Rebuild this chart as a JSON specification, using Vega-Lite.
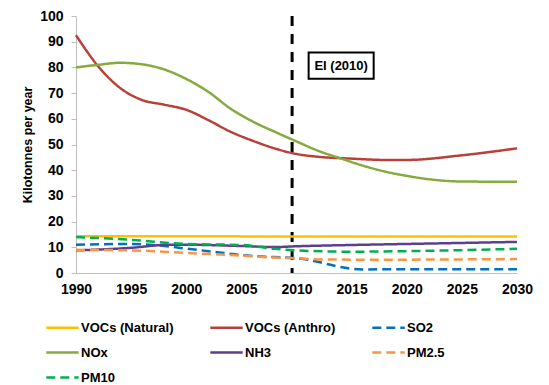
{
  "$schema": "https://vega.github.io/schema/vega-lite/v6.json",
  "width": 441,
  "height": 257,
  "autosize": {"type": "none"},
  "padding": {"left": 76, "top": 16, "right": 32, "bottom": 112},
  "background": "white",
  "config": {
    "view": {"stroke": null},
    "font": "Liberation Sans",
    "axis": {"labelOverlap": false, "labelFlush": false, "labelBound": false},
    "axisX": {
      "title": null, "format": "d", "grid": false, "ticks": false, "domainColor": "#BFBFBF",
      "labelFont": "Liberation Sans", "labelFontSize": 14, "labelFontWeight": "bold",
      "labelColor": "black", "labelPadding": 9
    },
    "axisY": {
      "grid": false, "tickColor": "#BFBFBF", "domainColor": "#BFBFBF", "tickSize": 5,
      "labelFont": "Liberation Sans", "labelFontSize": 14, "labelFontWeight": "bold",
      "labelColor": "black", "labelPadding": 8,
      "titleFont": "Liberation Sans", "titleFontSize": 12.5, "titleFontWeight": "bold",
      "titleColor": "black", "titlePadding": 5
    }
  },
  "datasets": {
    "emis": [
      {"year": 1990, "series": "VOCs (Natural)", "value": 14.3},
      {"year": 2000, "series": "VOCs (Natural)", "value": 14.3},
      {"year": 2010, "series": "VOCs (Natural)", "value": 14.2},
      {"year": 2020, "series": "VOCs (Natural)", "value": 14.2},
      {"year": 2030, "series": "VOCs (Natural)", "value": 14.2},

      {"year": 1990, "series": "VOCs (Anthro)", "value": 92.5},
      {"year": 1992, "series": "VOCs (Anthro)", "value": 80.5},
      {"year": 1994, "series": "VOCs (Anthro)", "value": 72},
      {"year": 1996, "series": "VOCs (Anthro)", "value": 67.3},
      {"year": 1998, "series": "VOCs (Anthro)", "value": 65.5},
      {"year": 2000, "series": "VOCs (Anthro)", "value": 63.5},
      {"year": 2002, "series": "VOCs (Anthro)", "value": 59.5},
      {"year": 2004, "series": "VOCs (Anthro)", "value": 55},
      {"year": 2006, "series": "VOCs (Anthro)", "value": 51.5},
      {"year": 2008, "series": "VOCs (Anthro)", "value": 48.5},
      {"year": 2010, "series": "VOCs (Anthro)", "value": 46.3},
      {"year": 2012, "series": "VOCs (Anthro)", "value": 45.2},
      {"year": 2015, "series": "VOCs (Anthro)", "value": 44.5},
      {"year": 2018, "series": "VOCs (Anthro)", "value": 44},
      {"year": 2020, "series": "VOCs (Anthro)", "value": 44},
      {"year": 2025, "series": "VOCs (Anthro)", "value": 45.8},
      {"year": 2030, "series": "VOCs (Anthro)", "value": 48.5},

      {"year": 1990, "series": "SO2", "value": 11},
      {"year": 1995, "series": "SO2", "value": 11.3},
      {"year": 1998, "series": "SO2", "value": 10.5},
      {"year": 2000, "series": "SO2", "value": 9.5},
      {"year": 2003, "series": "SO2", "value": 8},
      {"year": 2005, "series": "SO2", "value": 7},
      {"year": 2008, "series": "SO2", "value": 6.2},
      {"year": 2010, "series": "SO2", "value": 5.8},
      {"year": 2012, "series": "SO2", "value": 4.3},
      {"year": 2014, "series": "SO2", "value": 2.3},
      {"year": 2016, "series": "SO2", "value": 1.4},
      {"year": 2020, "series": "SO2", "value": 1.5},
      {"year": 2025, "series": "SO2", "value": 1.5},
      {"year": 2030, "series": "SO2", "value": 1.5},

      {"year": 1990, "series": "NOx", "value": 80},
      {"year": 1992, "series": "NOx", "value": 81},
      {"year": 1994, "series": "NOx", "value": 81.8},
      {"year": 1996, "series": "NOx", "value": 81.2},
      {"year": 1998, "series": "NOx", "value": 79.2},
      {"year": 2000, "series": "NOx", "value": 75.5},
      {"year": 2002, "series": "NOx", "value": 70.5},
      {"year": 2004, "series": "NOx", "value": 64},
      {"year": 2006, "series": "NOx", "value": 59},
      {"year": 2008, "series": "NOx", "value": 55},
      {"year": 2010, "series": "NOx", "value": 51.2},
      {"year": 2012, "series": "NOx", "value": 47.5},
      {"year": 2014, "series": "NOx", "value": 44.6},
      {"year": 2016, "series": "NOx", "value": 41.8},
      {"year": 2018, "series": "NOx", "value": 39.5},
      {"year": 2020, "series": "NOx", "value": 37.8},
      {"year": 2022, "series": "NOx", "value": 36.5},
      {"year": 2025, "series": "NOx", "value": 35.6},
      {"year": 2030, "series": "NOx", "value": 35.5},

      {"year": 1990, "series": "NH3", "value": 8.8},
      {"year": 1995, "series": "NH3", "value": 9.8},
      {"year": 1998, "series": "NH3", "value": 10.9},
      {"year": 2000, "series": "NH3", "value": 11},
      {"year": 2005, "series": "NH3", "value": 10.5},
      {"year": 2008, "series": "NH3", "value": 10.1},
      {"year": 2010, "series": "NH3", "value": 10.4},
      {"year": 2015, "series": "NH3", "value": 10.9},
      {"year": 2020, "series": "NH3", "value": 11.3},
      {"year": 2025, "series": "NH3", "value": 11.7},
      {"year": 2030, "series": "NH3", "value": 12.1},

      {"year": 1990, "series": "PM2.5", "value": 9},
      {"year": 1995, "series": "PM2.5", "value": 8.8},
      {"year": 2000, "series": "PM2.5", "value": 7.8},
      {"year": 2005, "series": "PM2.5", "value": 6.8},
      {"year": 2008, "series": "PM2.5", "value": 6},
      {"year": 2010, "series": "PM2.5", "value": 5.7},
      {"year": 2012, "series": "PM2.5", "value": 5.3},
      {"year": 2015, "series": "PM2.5", "value": 5.2},
      {"year": 2020, "series": "PM2.5", "value": 5.2},
      {"year": 2025, "series": "PM2.5", "value": 5.3},
      {"year": 2030, "series": "PM2.5", "value": 5.4},

      {"year": 1990, "series": "PM10", "value": 14},
      {"year": 1995, "series": "PM10", "value": 12.9},
      {"year": 2000, "series": "PM10", "value": 11.3},
      {"year": 2005, "series": "PM10", "value": 10.9},
      {"year": 2008, "series": "PM10", "value": 9.4},
      {"year": 2010, "series": "PM10", "value": 8.8},
      {"year": 2015, "series": "PM10", "value": 8.3},
      {"year": 2020, "series": "PM10", "value": 8.5},
      {"year": 2025, "series": "PM10", "value": 8.9},
      {"year": 2030, "series": "PM10", "value": 9.4}
    ],
    "marker": [{"year": 2009.6}],
    "box": [{"x1": 2011.1, "x2": 2017.0, "y1": 75.6, "y2": 85.8, "xc": 2014.05, "yc": 80.7, "label": "EI (2010)"}]
  },
  "layer": [
    {
      "data": {"name": "marker"},
      "mark": {"type": "rule", "color": "black", "strokeWidth": 3, "strokeDash": [10, 8]},
      "encoding": {
        "x": {"field": "year", "type": "quantitative", "scale": {"domain": [1990, 2030], "nice": false, "zero": false},
              "axis": {"values": [1990, 1995, 2000, 2005, 2010, 2015, 2020, 2025, 2030], "tickCount": 20, "labelOverlap": false}}
      }
    },
    {
      "data": {"name": "box"},
      "mark": {"type": "rect", "fill": "white", "stroke": "black", "strokeWidth": 2},
      "encoding": {
        "x": {"field": "x1", "type": "quantitative",
              "axis": {"values": [1990, 1995, 2000, 2005, 2010, 2015, 2020, 2025, 2030], "tickCount": 20, "labelOverlap": false}},
        "x2": {"field": "x2"},
        "y": {"field": "y1", "type": "quantitative", "scale": {"domain": [0, 100], "nice": false},
              "axis": {"title": "Kilotonnes per year", "values": [0, 10, 20, 30, 40, 50, 60, 70, 80, 90, 100], "tickCount": 20, "labelOverlap": false}},
        "y2": {"field": "y2"}
      }
    },
    {
      "data": {"name": "box"},
      "mark": {"type": "text", "font": "Liberation Sans", "fontSize": 13, "fontWeight": "bold", "color": "black", "align": "center", "baseline": "middle"},
      "encoding": {
        "x": {"field": "xc", "type": "quantitative",
              "axis": {"values": [1990, 1995, 2000, 2005, 2010, 2015, 2020, 2025, 2030], "tickCount": 20, "labelOverlap": false}},
        "y": {"field": "yc", "type": "quantitative",
              "axis": {"title": "Kilotonnes per year", "values": [0, 10, 20, 30, 40, 50, 60, 70, 80, 90, 100], "tickCount": 20, "labelOverlap": false}},
        "text": {"field": "label"}
      }
    },
    {
      "data": {"name": "emis"},
      "mark": {"type": "line", "strokeWidth": 2.5, "interpolate": "monotone"},
      "encoding": {
        "x": {
          "field": "year", "type": "quantitative",
          "axis": {"values": [1990, 1995, 2000, 2005, 2010, 2015, 2020, 2025, 2030], "tickCount": 20, "labelOverlap": false}
        },
        "y": {
          "field": "value", "type": "quantitative",
          "axis": {"title": "Kilotonnes per year", "values": [0, 10, 20, 30, 40, 50, 60, 70, 80, 90, 100], "tickCount": 20, "labelOverlap": false}
        },
        "color": {
          "field": "series", "type": "nominal",
          "sort": ["VOCs (Natural)", "VOCs (Anthro)", "SO2", "NOx", "NH3", "PM2.5", "PM10"],
          "scale": {
            "domain": ["VOCs (Natural)", "VOCs (Anthro)", "SO2", "NOx", "NH3", "PM2.5", "PM10"],
            "range": ["#FFC000", "#B8403A", "#0070C0", "#86AA40", "#5F3E8A", "#F79646", "#00B050"]
          },
          "legend": {
            "title": null, "orient": "none", "legendX": -31, "legendY": 294,
            "direction": "horizontal",
            "columns": 3, "columnPadding": 31, "rowPadding": -10,
            "symbolType": "stroke", "symbolSize": 1050, "symbolStrokeWidth": 2.5,
            "labelFont": "Liberation Sans", "labelFontSize": 13, "labelFontWeight": "bold",
            "labelColor": "black", "labelOffset": 1
          }
        },
        "strokeDash": {
          "field": "series", "type": "nominal",
          "sort": ["VOCs (Natural)", "VOCs (Anthro)", "SO2", "NOx", "NH3", "PM2.5", "PM10"],
          "scale": {
            "domain": ["VOCs (Natural)", "VOCs (Anthro)", "SO2", "NOx", "NH3", "PM2.5", "PM10"],
            "range": [[1, 0], [1, 0], [9, 5], [1, 0], [1, 0], [9, 5], [9, 5]]
          },
          "legend": null
        }
      }
    }
  ]
}
